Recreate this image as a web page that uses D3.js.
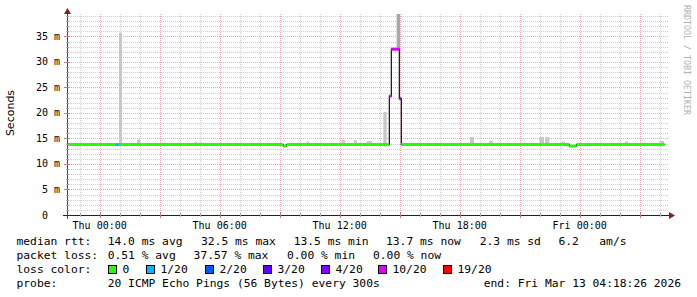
<!DOCTYPE html>
<html>
<head>
<meta charset="utf-8">
<script src="https://cdn.jsdelivr.net/npm/d3@7"></script>
<style>
  body { margin: 0; background: #fff; }
  svg { display: block; }
  text { font-family: "DejaVu Sans Mono", monospace; white-space: pre; }
</style>
</head>
<body>
<svg id="chart" width="697" height="297"></svg>
<script>
// median rtt, step starts (UTC) / value in ms / lost pings of 20
const medianTimes = ["2026-03-11 22:22", "2026-03-12 00:46", "2026-03-12 00:58", "2026-03-12 09:11",
  "2026-03-12 09:21", "2026-03-12 14:29", "2026-03-12 14:35", "2026-03-12 14:59", "2026-03-12 15:05",
  "2026-03-12 23:29", "2026-03-12 23:51", "2026-03-13 04:15"];
const medianValues = [13.8, 13.8, 13.8, 13.5, 13.8, 23.3, 32.5, 22.8, 13.8, 13.5, 13.8];
const medianLoss = [0, 1, 0, 0, 0, 10, 10, 4, 0, 0, 0];

// smoke (ping spread) bars: start, end, top in ms
const smokeStart = ["2026-03-12 00:58", "2026-03-12 01:52", "2026-03-12 04:44", "2026-03-12 04:59",
  "2026-03-12 08:40", "2026-03-12 10:21", "2026-03-12 12:06", "2026-03-12 12:43", "2026-03-12 13:21",
  "2026-03-12 14:11", "2026-03-12 14:51", "2026-03-12 18:31", "2026-03-12 19:29", "2026-03-12 21:59",
  "2026-03-12 22:16", "2026-03-12 23:06", "2026-03-13 02:16", "2026-03-13 03:59"];
const smokeEnd = ["2026-03-12 01:07", "2026-03-12 02:01", "2026-03-12 04:53", "2026-03-12 05:06",
  "2026-03-12 08:51", "2026-03-12 10:28", "2026-03-12 12:16", "2026-03-12 12:51", "2026-03-12 13:36",
  "2026-03-12 14:21", "2026-03-12 15:01", "2026-03-12 18:43", "2026-03-12 19:39", "2026-03-12 22:13",
  "2026-03-12 22:29", "2026-03-12 23:16", "2026-03-13 02:26", "2026-03-13 04:13"];
const smokeTop = [35.7, 14.8, 14.3, 14.3, 14.1, 14.4, 14.7, 14.7, 14.5, 20.2, 45.0, 15.3, 14.6,
  15.3, 15.3, 14.4, 14.4, 14.5];

// loss colour legend
const lossSteps = [0, 1, 2, 3, 4, 10, 19];
const lossLabels = ["0", "1/20", "2/20", "3/20", "4/20", "10/20", "19/20"];
const lossColors = ["#26ff00", "#00b8ff", "#0059ff", "#5e00ff", "#7e00ff", "#dd00ff", "#ff0000"];

// legend texts
const rttStats = ["14.0 ms avg", "32.5 ms max", "13.5 ms min", "13.7 ms now", "2.3 ms sd", "6.2   am/s"];
const lossStats = ["0.51 % avg", "37.57 % max", "0.00 % min", "0.00 % now"];
const probeText = "20 ICMP Echo Pings (56 Bytes) every 300s";
const endText = "end: Fri Mar 13 04:18:26 2026";

const parse = d3.utcParse("%Y-%m-%d %H:%M");
const svg = d3.select("#chart");

const plot = {left: 67, right: 669, top: 14, bottom: 215};
const x = d3.scaleUtc()
    .domain([parse("2026-03-11 22:22"), parse("2026-03-13 04:28")])
    .range([plot.left, plot.right]);
const y = d3.scaleLinear().domain([0, 39.4]).range([plot.bottom, plot.top]);

svg.append("defs").append("clipPath").attr("id", "clip")
  .append("rect").attr("x", plot.left).attr("y", plot.top)
  .attr("width", plot.right - plot.left).attr("height", plot.bottom - plot.top);

// grid
const grid = svg.append("g").attr("shape-rendering", "crispEdges");
const minorY = d3.range(1, 40).filter(v => v % 5 !== 0);
const majorY = d3.range(5, 40, 5);
grid.selectAll(".ymin").data(minorY).enter().append("line")
    .attr("x1", plot.left).attr("x2", plot.right)
    .attr("y1", d => Math.round(y(d)) + 0.5).attr("y2", d => Math.round(y(d)) + 0.5)
    .attr("stroke", "#cccccc").attr("stroke-dasharray", "1,1");
const hours = x.ticks(d3.utcHour.every(1));
const minorX = hours.filter(d => d.getUTCHours() % 3 !== 0);
const majorX = hours.filter(d => d.getUTCHours() % 3 === 0);
grid.selectAll(".xmin").data(minorX).enter().append("line")
    .attr("x1", d => Math.round(x(d)) + 0.5).attr("x2", d => Math.round(x(d)) + 0.5)
    .attr("y1", plot.top).attr("y2", plot.bottom)
    .attr("stroke", "#cccccc").attr("stroke-dasharray", "1,1");
grid.selectAll(".ymaj").data(majorY).enter().append("line")
    .attr("x1", plot.left).attr("x2", plot.right)
    .attr("y1", d => Math.round(y(d)) + 0.5).attr("y2", d => Math.round(y(d)) + 0.5)
    .attr("stroke", "#e6aaaa").attr("stroke-dasharray", "1,1");
grid.selectAll(".xmaj").data(majorX).enter().append("line")
    .attr("x1", d => Math.round(x(d)) + 0.5).attr("x2", d => Math.round(x(d)) + 0.5)
    .attr("y1", plot.top).attr("y2", plot.bottom)
    .attr("stroke", "#e6aaaa").attr("stroke-dasharray", "1,1");

// median series as objects
const med = medianValues.map((v, i) => ({
  t0: parse(medianTimes[i]), t1: parse(medianTimes[i + 1]), v: v, loss: medianLoss[i]
}));
const medianAt = t => med.find(d => t >= d.t0 && t < d.t1) || med[med.length - 1];

const data = svg.append("g").attr("clip-path", "url(#clip)");

// smoke
const smoke = smokeTop.map((top, i) => ({t0: parse(smokeStart[i]), t1: parse(smokeEnd[i]), top: top}));
data.selectAll(".smoke").data(smoke).enter().append("rect")
    .attr("x", d => x(d.t0))
    .attr("width", d => x(d.t1) - x(d.t0))
    .attr("y", d => y(d.top))
    .attr("height", d => y(medianAt(d.t0).v) - y(d.top))
    .attr("fill", d => d.top > 40 ? "#a8a8a8" : "#c8c8c8");

// black median line (steps)
const stepPts = med.map(d => [d.t0, d.v]).concat([[med[med.length - 1].t1, med[med.length - 1].v]]);
data.append("path")
    .attr("d", d3.line().x(d => x(d[0])).y(d => y(d[1])).curve(d3.curveStepAfter)(stepPts))
    .attr("fill", "none").attr("stroke", "#111").attr("stroke-width", 1.2);

// coloured median segments by loss
const lossColor = n => lossColors[d3.bisectRight(lossSteps, n) - 1];
data.selectAll(".seg").data(med).enter().append("line")
    .attr("x1", d => x(d.t0)).attr("x2", d => x(d.t1))
    .attr("y1", d => y(d.v)).attr("y2", d => y(d.v))
    .attr("stroke", d => lossColor(d.loss)).attr("stroke-width", 3);

// axes
const axisG = svg.append("g").attr("shape-rendering", "crispEdges");
axisG.append("line").attr("x1", 63).attr("x2", 670).attr("y1", plot.bottom + 0.5).attr("y2", plot.bottom + 0.5)
    .attr("stroke", "#222");
axisG.append("line").attr("x1", plot.left + 0.5).attr("x2", plot.left + 0.5).attr("y1", 219).attr("y2", 12)
    .attr("stroke", "#444");
axisG.selectAll(".ytk").data(d3.range(1, 40)).enter().append("line")
    .attr("x1", d => d % 5 === 0 ? plot.left - 3 : plot.left - 1)
    .attr("x2", d => d % 5 === 0 ? plot.left + 3 : plot.left + 2)
    .attr("y1", d => Math.round(y(d)) + 0.5).attr("y2", d => Math.round(y(d)) + 0.5)
    .attr("stroke", d => d % 5 === 0 ? "#c08080" : "#aaa");
axisG.selectAll(".xtk").data(hours).enter().append("line")
    .attr("x1", d => Math.round(x(d)) + 0.5).attr("x2", d => Math.round(x(d)) + 0.5)
    .attr("y1", d => d.getUTCHours() % 3 === 0 ? plot.bottom - 3 : plot.bottom - 2)
    .attr("y2", d => d.getUTCHours() % 3 === 0 ? plot.bottom + 3 : plot.bottom + 2)
    .attr("stroke", d => d.getUTCHours() % 3 === 0 ? "#c08080" : "#aaa");

// arrows
svg.append("path").attr("d", "M67.5,8 L64,14 L71,14 Z").attr("fill", "#8b1a1a");
svg.append("path").attr("d", "M675,215.5 L669,212 L669,219 Z").attr("fill", "#8b1a1a");

// y labels
svg.selectAll(".ylab").data(d3.range(0, 40, 5)).enter().append("text")
    .attr("x", d => d === 0 ? 48 : 60)
    .attr("y", d => y(d))
    .attr("dy", "0.35em")
    .attr("text-anchor", "end")
    .attr("font-size", 10)
    .attr("fill", "#000")
    .text(d => d === 0 ? "0" : d + " m");

// x labels
const fmt = d3.utcFormat("%a %H:%M");
svg.selectAll(".xlab").data(x.ticks(d3.utcHour.every(6))).enter().append("text")
    .attr("x", d => x(d))
    .attr("y", 225)
    .attr("dy", "0.35em")
    .attr("text-anchor", "middle")
    .attr("font-size", 10)
    .text(d => fmt(d));

// axis title
svg.append("text")
    .attr("transform", "translate(14,113) rotate(-90)")
    .attr("text-anchor", "middle")
    .style("font-family", "DejaVu Sans")
    .attr("font-size", 11)
    .text("Seconds");

// watermark
svg.append("text")
    .attr("transform", "translate(684,5) rotate(90)")
    .attr("font-size", 8.3)
    .attr("fill", "#b0b0b0")
    .text("RRDTOOL / TOBI OETIKER");

// legend
const legend = svg.append("g").attr("font-size", 11.3).attr("fill", "#000");
const addText = (tx, ty, s) => legend.append("text").attr("x", tx).attr("y", ty).attr("dy", "0.35em").text(s);
addText(16.5, 241.5, "median rtt:");
[107.7, 201, 293.7, 386, 479.7, 558.5].forEach((px, i) => addText(px, 241.5, rttStats[i]));
addText(16.5, 255.5, "packet loss:");
[107.7, 193.6, 287, 373].forEach((px, i) => addText(px, 255.5, lossStats[i]));
addText(16.5, 269.5, "loss color:");
const boxX = [108, 146, 205, 263, 321, 378, 443];
lossLabels.forEach((lab, i) => {
  legend.append("rect").attr("x", boxX[i] + 0.5).attr("y", 265.5).attr("width", 8).attr("height", 8)
      .attr("fill", lossColors[i]).attr("stroke", "#000").attr("stroke-width", 1);
  addText(boxX[i] + 14.5, 269.5, lab);
});
addText(16.5, 283.5, "probe:");
addText(107.7, 283.5, probeText);
legend.append("text").attr("x", 681).attr("y", 283.5).attr("dy", "0.35em").attr("text-anchor", "end").text(endText);
</script>
</body>
</html>
